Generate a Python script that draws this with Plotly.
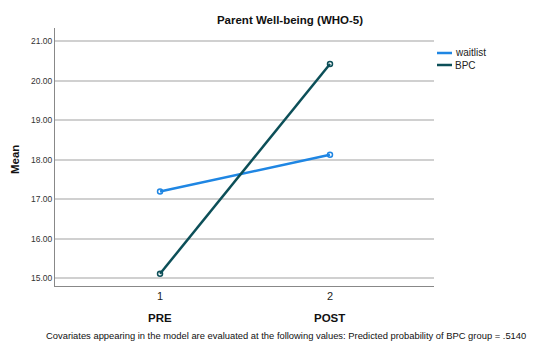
import plotly.graph_objects as go

time_points = [1, 2]
time_labels = ["PRE", "POST"]
waitlist = [17.19, 18.12]
bpc = [15.11, 20.42]
y_ticks = [15, 16, 17, 18, 19, 20, 21]
series_names = ["waitlist", "BPC"]
series_colors = ["#1f86e3", "#0c4f58"]

FONT = "Liberation Sans, Arial, sans-serif"

# page body has an 8px default margin; figure is sized so that it fits the window
OFF = 8
W, H = 537 - OFF, 342 - OFF
PL, PR, PT, PB = 55, 434, 28, 286  # plot area in window pixels
PW, PH = PR - PL, PB - PT


def px(xw):
    return (xw - PL) / PW


def py(yw):
    return (PB - yw) / PH


fig = go.Figure()
for name, vals, col in zip(series_names, [waitlist, bpc], series_colors):
    fig.add_trace(go.Scatter(
        x=time_points, y=vals, name=name, mode="lines+markers",
        line=dict(color=col, width=2.5),
        marker=dict(symbol="circle-open", size=5, color=col, line=dict(width=1.5)),
        showlegend=False,
    ))

fig.update_layout(
    width=W, height=H,
    margin=dict(l=PL - OFF, r=W - (PR - OFF), t=PT - OFF, b=H - (PB - OFF)),
    paper_bgcolor="white", plot_bgcolor="white",
    font=dict(family=FONT, color="#222"),
    title=dict(text="<b>Parent Well-being (WHO-5)</b>", x=(290 - OFF) / W, xanchor="center",
               y=1 - (20 - OFF) / H, yanchor="middle", font=dict(size=11.5, color="#111")),
    xaxis=dict(range=[0.382, 2.612], tickvals=time_points, ticktext=[str(t) for t in time_points],
               showgrid=False, zeroline=False, showline=True, linecolor="#888", linewidth=1,
               ticks="", tickfont=dict(size=11, color="#222")),
    yaxis=dict(range=[14.8, 21.33], tickvals=y_ticks, ticktext=[f"{v:.2f}" for v in y_ticks],
               showgrid=True, gridcolor="#d0d0d0", gridwidth=1.5, zeroline=False,
               showline=True, linecolor="#888", linewidth=1, ticks="",
               tickfont=dict(size=8.5, color="#333")),
)

# legend (drawn compactly, as in the reference)
for i, (name, col) in enumerate(zip(series_names, series_colors)):
    yw = 53 + 12 * i
    fig.add_shape(type="line", xref="paper", yref="paper",
                  x0=px(437), x1=px(452), y0=py(yw), y1=py(yw),
                  line=dict(color=col, width=2.5))
    fig.add_annotation(x=px(454), xref="paper", y=py(yw), yref="paper", text=name,
                       showarrow=False, xanchor="left", yanchor="middle", borderpad=0,
                       font=dict(size=10, color="#222"))

for t, lab in zip(time_points, time_labels):
    fig.add_annotation(x=t, xref="x", y=py(318), yref="paper", text=f"<b>{lab}</b>",
                       showarrow=False, font=dict(size=11.5, color="#111"), yanchor="middle")

fig.add_annotation(x=px(15), xref="paper", y=py(160), yref="paper",
                   text="<b>Mean</b>", textangle=-90, showarrow=False,
                   font=dict(size=11.5, color="#111"), xanchor="center", yanchor="middle")

fig.add_annotation(x=px(286), xref="paper", y=py(335.5), yref="paper",
                   text="Covariates appearing in the model are evaluated at the following values: Predicted probability of BPC group = .5140",
                   showarrow=False, font=dict(size=9.4, color="#111"), xanchor="center", yanchor="middle")

fig.write_html("out.html")
